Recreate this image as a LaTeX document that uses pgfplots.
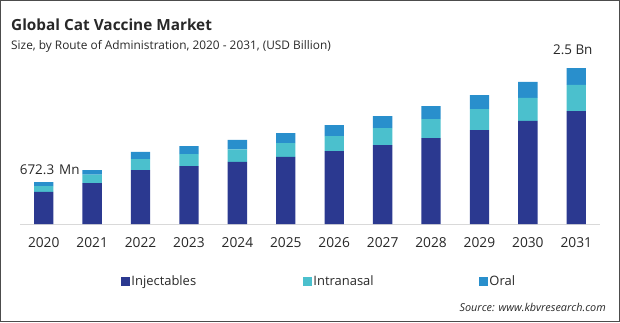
\documentclass[border=0pt]{standalone}
\usepackage{fontspec}
\setmainfont{Open Sans}
\usepackage{pgfplots}
\pgfplotsset{compat=1.18}
\definecolor{inj}{RGB}{43,57,144}
\definecolor{intra}{RGB}{75,192,205}
\definecolor{oral}{RGB}{41,143,204}
\definecolor{txt}{RGB}{40,40,40}
\begin{document}
\begin{tikzpicture}[x=1bp,y=1bp]
\useasboundingbox (0,0) rectangle (620,322);
\draw[line width=1.2bp, color=black!70] (0.6,0.6) rectangle (619.4,321.4);
\node[anchor=base west, inner sep=0, font=\fontsize{15.4}{18}\selectfont\bfseries, text=txt] at (11,292) {Global Cat Vaccine Market};
\node[anchor=base west, inner sep=0, font=\fontsize{11.9}{14}\selectfont, text=txt] at (11,272.7) {Size, by Route of Administration, 2020 - 2031, (USD Billion)};
\node[anchor=base east, inner sep=0, font=\fontsize{10.9}{13}\selectfont\itshape, text=txt] at (606,10.3) {Source: www.kbvresearch.com};
\begin{axis}[
  at={(20bp,98bp)}, anchor=south west,
  scale only axis, width=580bp, height=180bp,
  xmin=-0.49, xmax=11.49, ymin=0, ymax=2.885,
  ybar stacked, bar width=19.3bp,
  axis y line=none, axis x line=bottom,
  x axis line style={-, draw=black!15, line width=1bp},
  xtick={0,...,11},
  xticklabels={2020,2021,2022,2023,2024,2025,2026,2027,2028,2029,2030,2031},
  xtick style={draw=none}, major tick length=0pt,
  xticklabel style={anchor=base, yshift=-23bp, font=\fontsize{13.8}{16}\selectfont, text=txt},
  /pgf/number format/assume math mode=true,
  enlargelimits=false, clip=false,
  legend columns=3,
  legend style={at={(0.1741,-0.3167)}, anchor=west, draw=none, fill=none,
    inner sep=0pt, outer sep=0pt, font=\fontsize{13}{15}\selectfont, text=txt,
    nodes={inner sep=1.5bp}, cells={anchor=west},
    /tikz/every even column/.append style={column sep=0bp}},
  legend image code/.code={\fill[#1,draw=none] (0bp,-4.5bp) rectangle (9bp,4.5bp);},
]
\addplot[fill=inj, draw=none] coordinates {(0,0.513) (1,0.657) (2,0.865) (3,0.929) (4,0.994) (5,1.074) (6,1.170) (7,1.266) (8,1.378) (9,1.506) (10,1.651) (11,1.811)};
\addplot[fill=intra, draw=none] coordinates {(0,0.096) (1,0.133) (2,0.176) (3,0.192) (4,0.204) (5,0.224) (6,0.240) (7,0.272) (8,0.304) (9,0.337) (10,0.369) (11,0.417)};
\addplot[fill=oral, draw=none] coordinates {(0,0.064) (1,0.075) (2,0.117) (3,0.128) (4,0.149) (5,0.160) (6,0.176) (7,0.192) (8,0.208) (9,0.224) (10,0.256) (11,0.272)};
\addlegendentry{\makebox[170bp][l]{Injectables}}
\addlegendentry{\makebox[164bp][l]{Intranasal}}
\addlegendentry{Oral}
\node[anchor=base, xshift=6bp, yshift=7.7bp, font=\fontsize{13.5}{15}\selectfont, text=txt] at (axis cs:0,0.673) {672.3\hspace{5bp}Mn};
\node[anchor=base, xshift=-3.5bp, yshift=14bp, font=\fontsize{13.5}{15}\selectfont, text=txt] at (axis cs:11,2.5) {2.5 Bn};
\end{axis}
\end{tikzpicture}
\end{document}
